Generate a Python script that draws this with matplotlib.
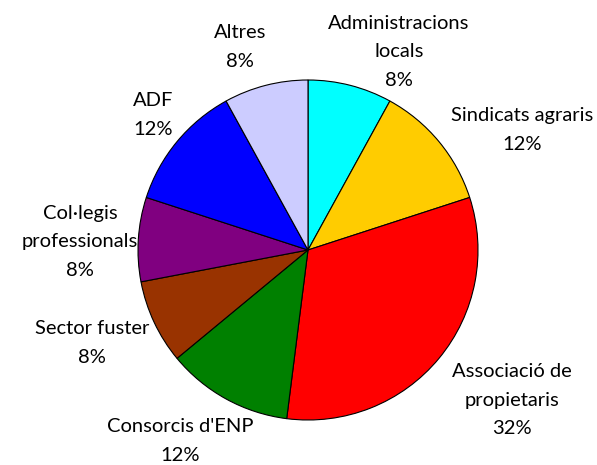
import matplotlib.pyplot as plt

# Dades del gràfic
categories = ['Administracions\nlocals', 'Sindicats agraris', 'Associació de\npropietaris',
              "Consorcis d'ENP", 'Sector fuster', 'Col·legis\nprofessionals', 'ADF', 'Altres']
valors = [8, 12, 32, 12, 8, 8, 12, 8]
colors = ['#00FFFF', '#FFCC00', '#FF0000', '#008000', '#993300', '#800080', '#0000FF', '#CCCCFF']

# posicions de les etiquetes (píxels, origen a dalt a l'esquerra)
label_pos = [(399, 52), (522, 130), (512, 400), (180, 441), (92, 343), (80, 242), (153, 115), (240, 47)]

plt.rcParams['font.family'] = ['Lato', 'DejaVu Sans']

W, H = 597, 465
fig = plt.figure(figsize=(W / 100, H / 100), dpi=100)
ax = fig.add_axes([0, 0, 1, 1])

ax.pie(valors, colors=colors, startangle=90, counterclock=False,
       center=(308, H - 250), radius=170,
       wedgeprops=dict(edgecolor='black', linewidth=0.8))

for nom, v, (x, y) in zip(categories, valors, label_pos):
    ax.text(x, H - y, f'{nom}\n{v}%', ha='center', va='center',
            fontsize=14.5, linespacing=1.8)

ax.set_xlim(0, W)
ax.set_ylim(0, H)
ax.set_aspect('equal')
ax.axis('off')

fig.savefig('out.png', dpi=100)
